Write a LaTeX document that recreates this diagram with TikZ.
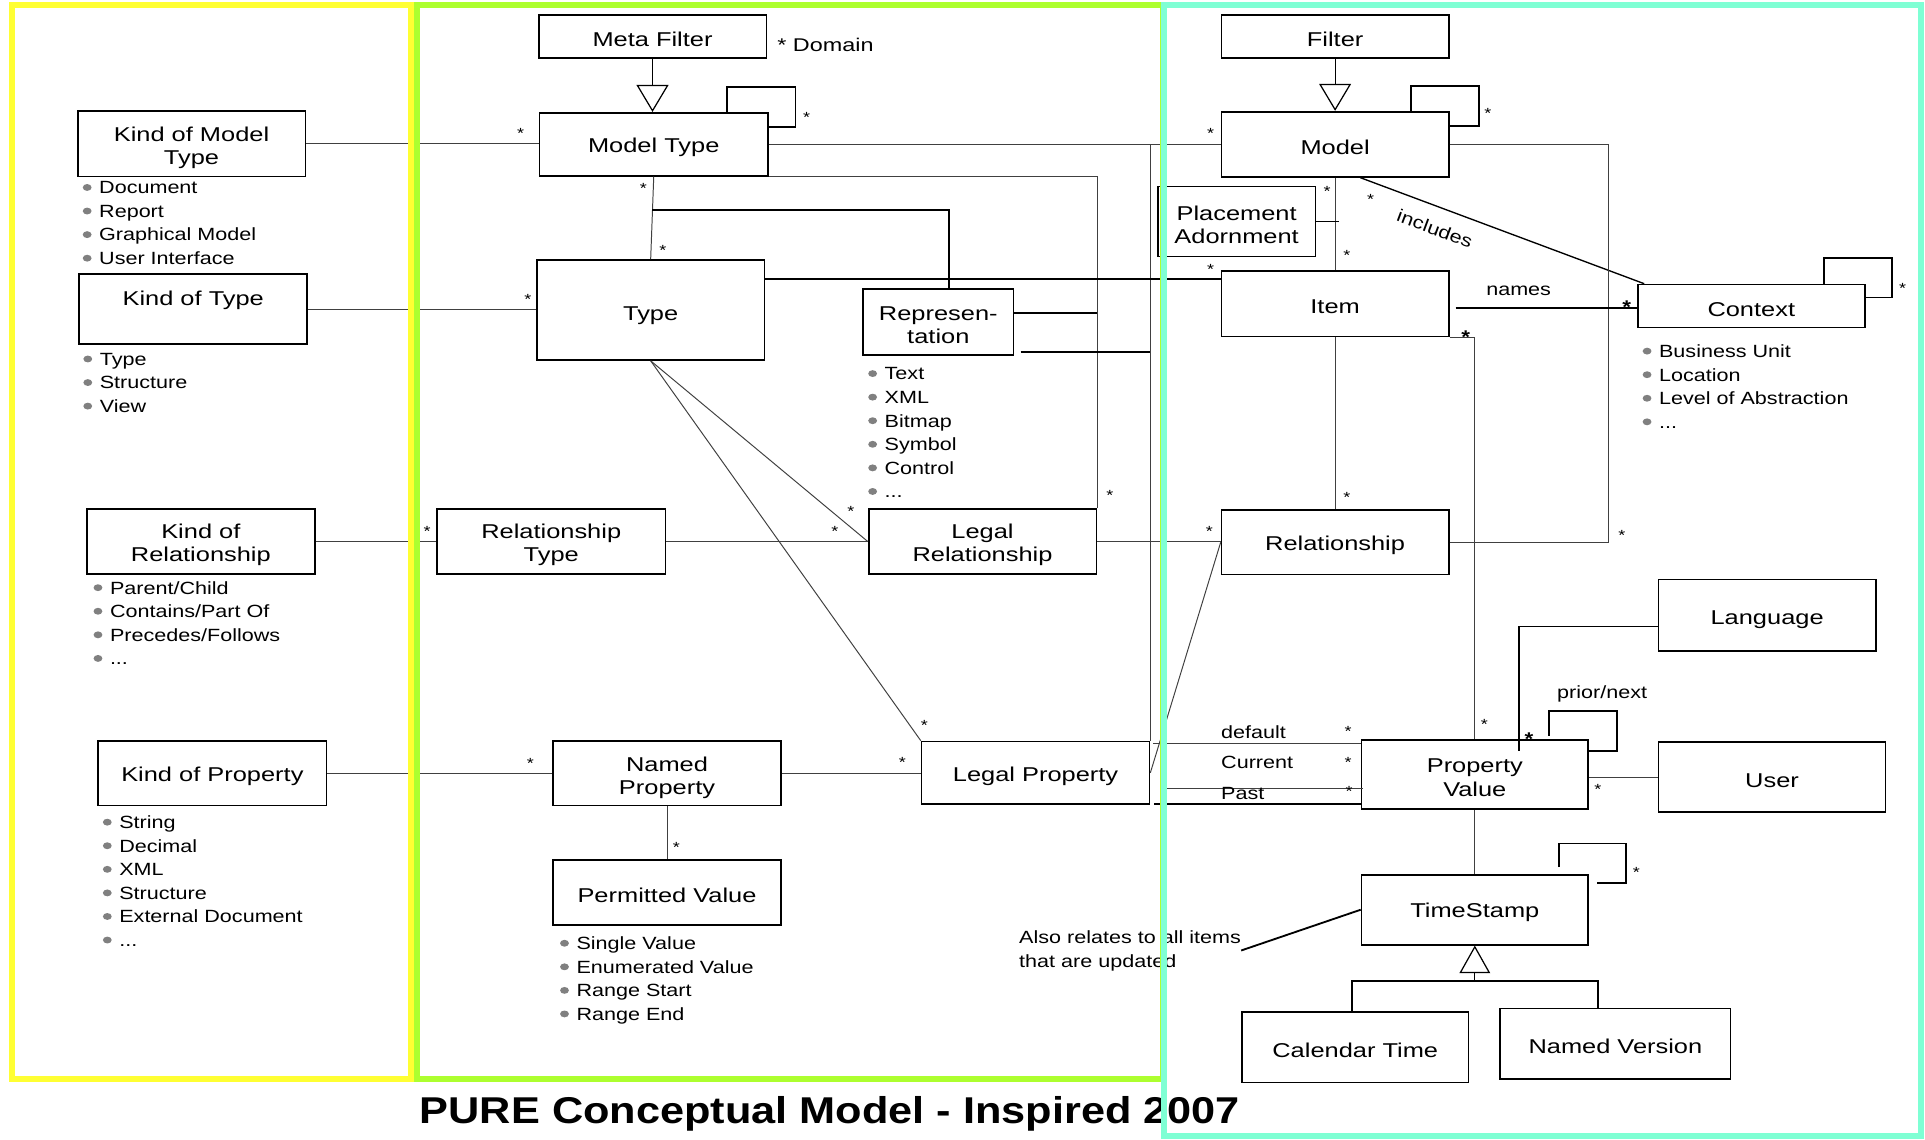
\documentclass[tikz,border=0pt]{standalone}
\usepackage{fontspec}
\setmainfont{Liberation Sans}
\newfontfamily\boxfont{Liberation Sans}[FakeStretch=1.27]
\newfontfamily\listfont{Liberation Sans}[FakeStretch=1.22]
\newfontfamily\headfont{Liberation Sans}[FakeStretch=1.16]
\usetikzlibrary{arrows.meta,calc}

\definecolor{yframe}{HTML}{FFFF33}
\definecolor{gframe}{HTML}{ADFF2F}
\definecolor{cframe}{HTML}{7FFFD4}
\definecolor{bulgray}{HTML}{808080}

\tikzset{
  clsbox/.style 2 args={draw, line width=1.4pt, minimum width=#1pt, minimum height=#2pt, inner sep=0pt},
  clstext/.style={inner sep=0pt, align=center, font=\boxfont\fontsize{16.3}{19}\selectfont},
  entry/.style={inner sep=0pt, anchor=base west, font=\listfont\fontsize{14.4}{19.2}\selectfont},
  lbl/.style={inner sep=0pt, font=\listfont\fontsize{14.4}{19.6}\selectfont},
  star/.style={inner sep=0pt, anchor=base, yshift=-6.9pt, font=\listfont\fontsize{12}{12}\selectfont},
  bstar/.style={inner sep=0pt, anchor=base, yshift=-9pt, font=\listfont\bfseries\fontsize{15}{15}\selectfont},
  ln/.style={line width=0.8pt, black!75},
  thk/.style={line width=1.5pt},
  selfl/.style={line width=1.5pt},
  gen/.style={line width=1pt, -{Triangle[open, length=22pt, width=26pt]}},
  frame/.style={line width=5pt},
}

\newcommand\etcdots{...}
% a class box with its name: [text shift], name, x, y, width, height, text
\newcommand\cls[7][-2.5]{%
  \node[clsbox={#5}{#6}] (#2) at (#3,#4) {};
  \node[clstext, yshift=#1pt] (#2t) at (#2) {#7};}
% one bullet list under a box: name, bullet x, first line y, items
\newcommand\bulletlist[4]{%
  \foreach \txt [count=\i from 0] in {#4} {%
    \fill[bulgray] (#2,{#3+19.2*\i}) ellipse (3.6pt and 2.8pt);
    \node[entry] (#1\i) at ({#2+9.6},{#3+19.2*\i+5.2}) {\txt};
  }}

\begin{document}
\begin{tikzpicture}[x=1pt,y=-1pt]
  \useasboundingbox (0,0) rectangle (1568,928);

  % classes
  \cls{mf}{531.5}{29.7}{185.5}{34.9}{Meta Filter}
  \cls{mt}{532.5}{117.5}{186}{51.2}{Model Type}
  \cls{flt}{1087.5}{29.7}{185}{35}{Filter}
  \cls{model}{1087.5}{117.5}{185}{53}{Model}
  \cls[-3.5]{kmt}{156}{117.1}{185.5}{53.2}{Kind of Model\\Type}
  \cls[7.5]{kt}{157.4}{251.8}{185.8}{56.8}{Kind of Type}
  \cls[-4.5]{type}{530}{252.5}{185.5}{81.4}{Type}
  \cls{rep}{764.3}{262.2}{122.5}{53.4}{Represen-\\tation}
  \cls{pa}{1007.3}{180.4}{128.5}{57.1}{Placement\\Adornment}
  \cls{item}{1087.5}{247.3}{185}{53.5}{Item}
  \cls{ctx}{1426.5}{249.3}{185}{35}{Context}
  \cls{krel}{163.6}{441.1}{185.5}{53}{Kind of\\Relationship}
  \cls{rt}{449}{441.1}{186}{53}{Relationship\\Type}
  \cls{lr}{800.3}{441.1}{185.5}{53}{Legal\\Relationship}
  \cls{rel}{1087.5}{441.7}{185}{52.6}{Relationship}
  \cls{kprop}{173}{629.8}{186}{52.5}{Kind of Property}
  \cls[-3.5]{np}{543.3}{629.8}{185.5}{52.5}{Named\\Property}
  \cls{lp}{843.5}{629.5}{185.6}{51}{Legal Property}
  \cls{pval}{543.3}{726.9}{185.5}{52.7}{Permitted Value}
  \cls[-3.5]{lang}{1439.4}{501}{177}{58}{Language}
  \cls{pv}{1201.3}{630.9}{184.5}{56.6}{Property\\Value}
  \cls{user}{1443.4}{633.1}{185}{57}{User}
  \cls{ts}{1201.3}{741}{184.5}{57}{TimeStamp}
  \cls{ct}{1103.9}{853.1}{184.6}{57.2}{Calendar Time}
  \cls{nv}{1315.8}{850.1}{187.5}{57.2}{Named Version}

  % value lists
  \bulletlist{kmtl}{71}{152.7}{Document,Report,Graphical Model,User Interface}
  \bulletlist{ktl}{71.5}{292.4}{Type,Structure,View}
  \bulletlist{repl}{710.8}{304.3}{Text,XML,Bitmap,Symbol,Control,\etcdots}
  \bulletlist{krell}{79.8}{478.7}{Parent/Child,Contains/Part Of,Precedes/Follows,\etcdots}
  \bulletlist{kpropl}{87.4}{669.7}{String,Decimal,XML,Structure,External Document,\etcdots}
  \bulletlist{pvall}{459.8}{768.3}{Single Value,Enumerated Value,Range Start,Range End}
  \bulletlist{ctxl}{1341.6}{286}{Business Unit,Location,Level of Abstraction,\etcdots}

  % kinds
  \draw[ln] (kmt.east) -- (kmt.east -| mt.west);
  \draw[ln] (kt.east) -- (kt.east -| type.west);
  \draw[ln] (krel.east) -- (krel.east -| rt.west);
  \draw[ln] (kprop.east) -- (kprop.east -| np.west);

  % meta level
  \draw[gen] (mf.south) -- (mf.south |- mt.north);
  \draw[selfl] ([xshift=59.5pt]mt.north) -- ++(0,-20.3) -- ++(56,0) -- ++(0,32.3) -- ++(-22.6,0);
  \draw[ln] (mt.south) -- (type.north);
  \draw[thk] ($(mt.south)!0.41!(type.north)$) -| ([xshift=9pt]rep.north);
  \draw[ln] (mt.east) -- (mt.east -| model.west);
  \draw[ln] (mt.east -| lp.east) -- (lp.north east);
  \draw[ln] (mt.south east) -| (lr.north east);
  \draw[thk] ([yshift=7.4pt]rep.east) -- ([yshift=7.4pt]rep.east -| lr.east);
  \draw[thk] ([xshift=5pt,yshift=-24.3pt]rep.east) -- ([yshift=-24.3pt]rep.east -| lp.east);
  \draw[thk] ([yshift=-16pt]type.north east) -- ([yshift=-16pt]type.north east -| item.west);
  \draw[ln] (type.south) -- (lr.west);
  \draw[ln] (type.south) -- (lp.north west);
  \draw[ln] (rt.east) -- (rt.east -| lr.west);
  \draw[ln] (np.east) -- (np.east -| lp.west);
  \draw[ln] (np.south) -- (pval.north);

  % model level
  \draw[gen] (flt.south) -- (flt.south |- model.north);
  \draw[selfl] ([xshift=62.1pt]model.north) -- ++(0,-20.3) -- ++(54.9,0) -- ++(0,32.6) -- ++(-24.5,0);
  \draw[ln] (model.south) -- (item.north);
  \draw[line width=1.1pt] (pa.east) -- ([xshift=3pt]pa.east -| model.south);
  \draw[line width=1.1pt] ([xshift=20.5pt]model.south) -- node[lbl, sloped, below=12pt, pos=0.29] (incl) {includes} ([xshift=6pt]ctx.north west);
  \draw[ln] (model.east) -- ++(129.6,0) |- (rel.east);
  \draw[line width=1.1pt] ([xshift=5pt,yshift=-3.7pt]item.east) -- ([yshift=-3.7pt]item.east -| ctx.west);
  \node[lbl] (names) at (1237,237) {names};
  \draw[selfl] ([xshift=59.2pt]ctx.north) -- ++(0,-20.8) -- ++(55.3,0) -- ++(0,32) -- ++(-22,0);
  \draw[ln] (item.south) -- (rel.north);
  \draw[ln] (item.south east) -| (pv.north);
  \draw[ln] (lr.east) -- (lr.east -| rel.west);
  \draw[ln] (rel.west) -- (lp.east);

  % property values
  \draw[ln] ([yshift=25.3pt]pv.west) -- ([xshift=2pt,yshift=25.3pt]pv.west -| lp.east);
  \draw[ln] ([xshift=2pt,yshift=-11.1pt]pv.west) -- ([xshift=8pt,yshift=-11.1pt]pv.west -| lp.east);
  \draw[thk] ([yshift=-24.3pt]pv.west) -- ([xshift=3pt,yshift=-24.3pt]pv.west -| lp.east);
  \node[lbl, anchor=west] (dflt) at (994.5,596) {default};
  \node[lbl, anchor=west] (curr) at (994.5,621.2) {Current};
  \node[lbl, anchor=west] (past) at (994.5,646.2) {Past};
  \draw[thk] ([yshift=-9.3pt]lang.west) -| ([xshift=35.7pt,yshift=-10pt]pv.north);
  \draw[selfl] ([xshift=60.7pt,yshift=2.6pt]pv.north) -- ++(0,-20) -- ++(54.8,0) -- ++(0,32.5) -- ++(-23.3,0);
  \node[lbl] (prnx) at (1305,565) {prior/next};
  \draw[ln] (user.west) -- (user.west -| pv.east);
  \draw[ln] (pv.south) -- (ts.north);
  \draw[selfl] ([xshift=68.4pt,yshift=5.4pt]ts.north) -- ++(0,-19.3) -- ++(54.7,0) -- ++(0,32.3) -- ++(-23.7,0);
  \draw[gen, -{Triangle[open, length=22.5pt, width=25pt]}] ([yshift=-29.6pt]ts.south) -- (ts.south);
  \draw[thk] ([xshift=-2.4pt]ct.north) |- ([xshift=-14.5pt,yshift=21.9pt]nv.north) -- ([xshift=-14.5pt]nv.north);
  \node[lbl, anchor=west, align=left] (note) at (830,774.2) {Also relates to all items\\that are updated};
  \draw[thk] (note.east) -- (ts.west);

  \node[clstext, anchor=west, font=\boxfont\fontsize{15}{15}\selectfont] (dom) at (633,36.4) {* Domain};

  % multiplicities
  \foreach \x/\y [count=\i] in {424/106, 430/241, 348/430, 432/619, 524/151, 540/201,
      657/92.5, 986/106, 986/217, 1081/153, 1097/205, 1116.4/160, 1212/90, 1549.7/232,
      904/401, 693/413.7, 680/430, 985/430, 1097/402, 1321/433.5, 753/588.5, 735/618,
      551/687.7, 1098/593, 1098/618.5, 1099/642, 1209/587, 1301.6/640, 1332.8/707.5}
    \node[star] (m\i) at (\x,\y) {*};
  \node[bstar] (mb1) at (1325,246.6) {*};
  \node[bstar] (mb2) at (1193.8,270.6) {*};
  \node[bstar] (mb3) at (1245.4,598) {*};

  % title
  \node[anchor=base, inner sep=0pt, font=\headfont\bfseries\fontsize{30.4}{32}\selectfont] (title) at (676,915) {PURE Conceptual Model - Inspired 2007};

  % frames
  \draw[frame, yframe] (9.7,4.4) rectangle (335,879);
  \draw[frame, gframe] (339.6,4.4) rectangle (947,879);
  \draw[frame, cframe] (948.2,3.8) rectangle (1564.5,925.5);
\end{tikzpicture}
\end{document}
